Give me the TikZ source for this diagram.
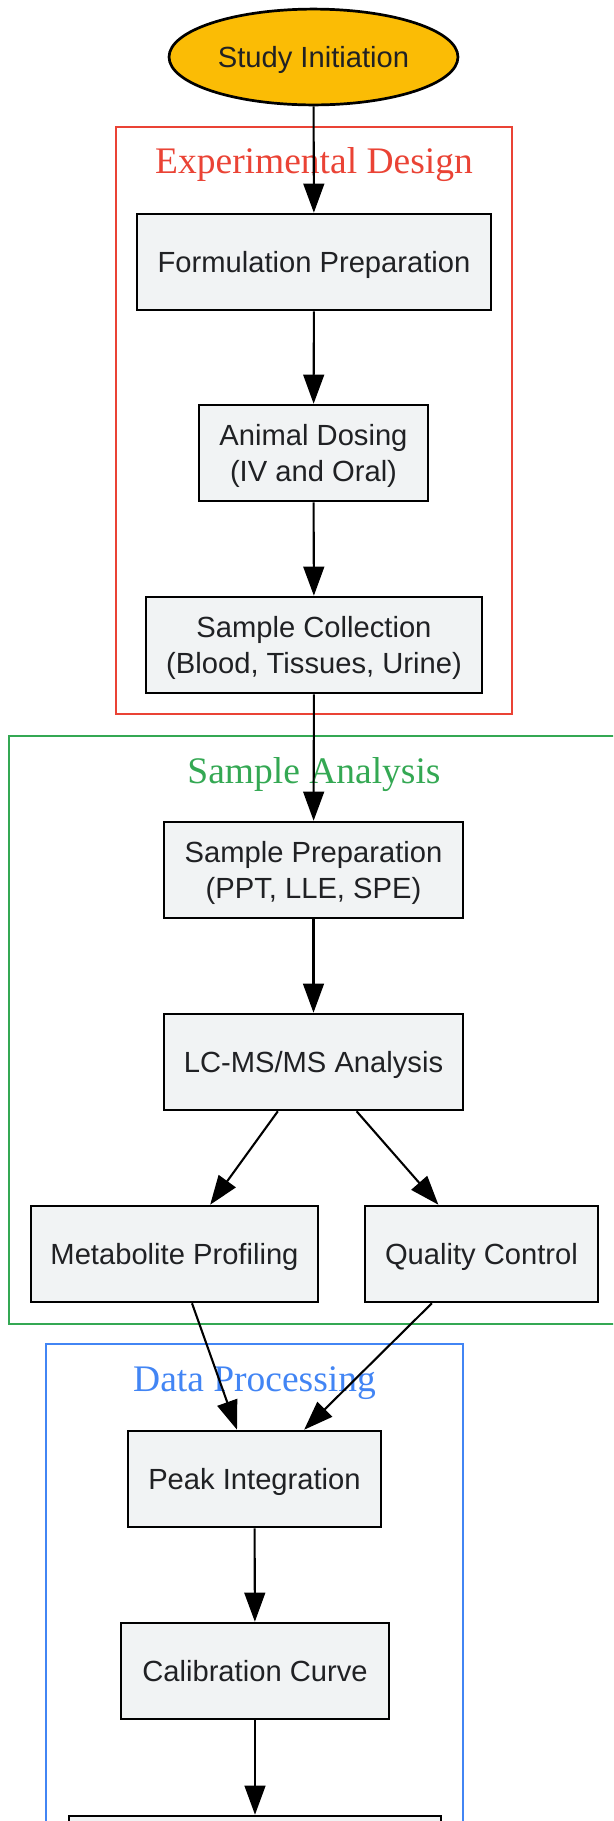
\documentclass[tikz,border=0pt]{standalone}
\usepackage{fontspec}
\setmainfont{Liberation Serif}
\setsansfont{Liberation Sans}
\usetikzlibrary{shapes.geometric}
\usetikzlibrary{arrows.meta}
\definecolor{boxfill}{HTML}{F1F3F4}
\definecolor{startfill}{HTML}{FBBC05}
\definecolor{textgray}{HTML}{202124}
\definecolor{designred}{HTML}{EA4335}
\definecolor{analysisgreen}{HTML}{34A853}
\definecolor{processblue}{HTML}{4285F4}

\begin{document}
\begin{tikzpicture}[x=0.48pt,y=-0.48pt,
        box/.style={draw=black,line width=1.3pt,fill=boxfill,text=textgray,inner sep=0pt,
            minimum height=46pt,align=center,text height=10pt,text depth=0pt,
            font=\sffamily\fontsize{14}{17}\selectfont},
        twoline/.style={text height=,text depth=0pt},
        flow/.style={-{Triangle[length=14pt,width=10pt]},line width=1pt},
        cluster/.style={line width=1pt},
        title/.style={font=\rmfamily\fontsize{18}{21}\selectfont}]
        \clip (0,0) rectangle (613,1821);
        \useasboundingbox (0,0) rectangle (613,1821);
        % clusters
        \draw[cluster,designred] (116,127) rectangle (512,714);
        \node[title,text=designred] (designtitle) at (314,165) {Experimental Design};
        \draw[cluster,analysisgreen] (9,736) rectangle (640,1324);
        \node[title,text=analysisgreen] (analysistitle) at (314,775) {Sample Analysis};
        \draw[cluster,processblue] (46,1344) rectangle (463,1900);
        \node[title,text=processblue] (processtitle) at (254.5,1383) {Data Processing};
        % steps
        \node[box,ellipse,fill=startfill,minimum width=138.7pt] (start) at (313.5,57) {Study Initiation};
        \node[box,minimum width=169.9pt] (formulation) at (314,262) {Formulation Preparation};
        \node[box,twoline,minimum width=109.9pt] (dosing) at (313.5,453) {Animal Dosing\\(IV and Oral)};
        \node[box,twoline,minimum width=161.3pt] (collection) at (314,645) {Sample Collection\\(Blood, Tissues, Urine)};
        \node[box,twoline,minimum width=143.5pt] (prep) at (313.5,870) {Sample Preparation\\(PPT, LLE, SPE)};
        \node[box,minimum width=143.5pt] (lcms) at (313.5,1062) {LC-MS/MS Analysis};
        \node[box,minimum width=137.8pt] (metab) at (174.5,1254) {Metabolite Profiling};
        \node[box,minimum width=111.8pt] (qc) at (481.5,1254) {Quality Control};
        \node[box,minimum width=121.4pt] (peak) at (254.5,1479) {Peak Integration};
        \node[box,minimum width=128.6pt] (calib) at (255,1671) {Calibration Curve};
        \node[box,minimum width=178.6pt] (next) at (255,1864) {};
        % arrows
        \draw[flow] (start) -- (formulation);
        \draw[flow] (formulation) -- (dosing);
        \draw[flow] (dosing) -- (collection);
        \draw[flow] (collection) -- (prep);
        \draw[flow] (prep) -- (lcms);
        \draw[flow] (lcms) -- (metab);
        \draw[flow] (lcms) -- (qc);
        \draw[flow] (metab) -- (peak);
        \draw[flow] (qc) -- (peak);
        \draw[flow] (peak) -- (calib);
        \draw[flow] (calib) -- (next);
    \end{tikzpicture}
\end{document}
